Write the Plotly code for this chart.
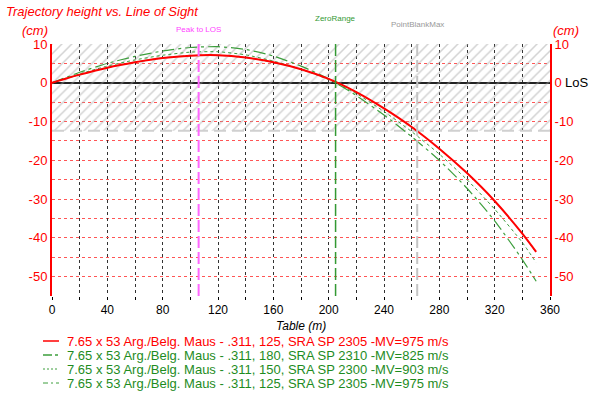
import plotly.graph_objects as go

# ---------------- data ----------------
RANGE_M = [0, 20, 40, 60, 80, 100, 120, 140, 160, 180, 200, 220, 240, 260, 280, 300, 320, 340, 350]

H_125_975_RED = [0, 2.1, 3.9, 5.3, 6.4, 7.0, 7.1, 6.5, 5.3, 3.5, 1.0, -2.4, -6.6, -11.4, -17.0, -23.3, -30.5, -38.9, -43.6]
H_180_825 = [0, 2.7, 5.0, 6.8, 8.2, 9.1, 9.3, 8.6, 6.9, 4.3, 1.0, -3.3, -8.3, -13.9, -20.0, -27.2, -35.6, -45.6, -51.2]
H_150_903 = [0, 2.3, 4.3, 5.9, 7.1, 7.9, 8.0, 7.2, 5.6, 3.5, 0.8, -2.8, -7.4, -12.6, -18.4, -25.0, -32.6, -41.2, -46.4]
H_125_975_GREEN = [0, 2.1, 3.9, 5.3, 6.4, 7.0, 7.1, 6.5, 5.3, 3.5, 1.0, -2.4, -6.6, -11.4, -17.0, -23.3, -30.5, -38.9, -43.8]

SERIES_NAMES = [
    "7.65 x 53 Arg./Belg. Maus - .311, 125, SRA SP 2305 -MV=975 m/s",
    "7.65 x 53 Arg./Belg. Maus - .311, 180, SRA SP 2310 -MV=825 m/s",
    "7.65 x 53 Arg./Belg. Maus - .311, 150, SRA SP 2300 -MV=903 m/s",
    "7.65 x 53 Arg./Belg. Maus - .311, 125, SRA SP 2305 -MV=975 m/s",
]

PEAK_TO_LOS_M = 106
ZERO_RANGE_M = 205
POINT_BLANK_MAX_M = 264
HATCH_LOW_CM = -12.4
HATCH_HIGH_CM = 10

X_TICKS = [0, 40, 80, 120, 160, 200, 240, 280, 320, 360]
X_TICK_TEXT = ["0", "40", "80", "120", "160", "200", "240", "280", "320", "360"]
Y_TICKS = [10, 0, -10, -20, -30, -40, -50]
Y_TICK_TEXT = ["10", "0", "-10", "-20", "-30", "-40", "-50"]

# ---------------- styles ----------------
FONT = "Liberation Sans, Arial, sans-serif"
RED = "#ff0000"
GREEN_LINE = "#3c9e3c"
GREEN_TEXT = "#1e8c1e"
W, H = 600, 395
ML, MR, MT, MB = 52, 50, 44, 99
PW = W - ML - MR
PH = H - MT - MB


def px_to_paper(px, py):
    return (px - ML) / PW, (H - MB - py) / PH


fig = go.Figure()

# hatched point-blank zone
fig.add_trace(go.Scatter(
    x=[0, 360, 360, 0, 0], y=[HATCH_LOW_CM, HATCH_LOW_CM, HATCH_HIGH_CM, HATCH_HIGH_CM, HATCH_LOW_CM],
    fill="toself", fillcolor="rgba(0,0,0,0)", mode="lines", line=dict(width=0),
    fillpattern=dict(shape="/", fgcolor="#a6a6a6", bgcolor="rgba(0,0,0,0)", size=7, solidity=0.22),
    hoverinfo="skip", showlegend=False))
# lower edge of zone
fig.add_trace(go.Scatter(
    x=[0, 360], y=[HATCH_LOW_CM, HATCH_LOW_CM], mode="lines",
    line=dict(color="#d0d0d0", width=2, dash="12px,6px"), hoverinfo="skip", showlegend=False))

styles = [
    dict(color=GREEN_LINE, width=1, dash="dashdot"),
    dict(color=GREEN_LINE, width=1, dash="dot"),
    dict(color=GREEN_LINE, width=1.2, dash="12px,4px,3px,4px"),
    dict(color=RED, width=2, dash="solid"),
]
series = [H_125_975_GREEN, H_150_903, H_180_825, H_125_975_RED]
names = [SERIES_NAMES[3], SERIES_NAMES[2], SERIES_NAMES[1], SERIES_NAMES[0]]
for ys, st, nm in zip(series, styles, names):
    fig.add_trace(go.Scatter(x=RANGE_M, y=ys, mode="lines", line=dict(shape="spline", smoothing=0.6, **st),
                             name=nm, showlegend=False))

# dummy trace to anchor right axis
fig.add_trace(go.Scatter(x=[None], y=[None], yaxis="y2", showlegend=False, hoverinfo="skip"))

# vertical markers
fig.add_shape(type="line", x0=PEAK_TO_LOS_M, x1=PEAK_TO_LOS_M, y0=0, y1=1, xref="x", yref="paper",
              line=dict(color="#ff66ff", width=2, dash="12px,4px"))
fig.add_shape(type="line", x0=ZERO_RANGE_M, x1=ZERO_RANGE_M, y0=0, y1=1, xref="x", yref="paper",
              line=dict(color="#339933", width=1.5, dash="12px,4px"))
fig.add_shape(type="line", x0=POINT_BLANK_MAX_M, x1=POINT_BLANK_MAX_M, y0=0, y1=1, xref="x", yref="paper",
              line=dict(color="#c4c4c4", width=2, dash="12px,4px"))

ann = []
ann.append(dict(x=PEAK_TO_LOS_M, y=px_to_paper(0, 30)[1], xref="x", yref="paper", text="Peak to LOS",
                showarrow=False, font=dict(family=FONT, size=8, color="#ff44ff"), xanchor="center", yanchor="middle"))
ann.append(dict(x=ZERO_RANGE_M, y=px_to_paper(0, 19)[1], xref="x", yref="paper", text="ZeroRange",
                showarrow=False, font=dict(family=FONT, size=8, color="#339933"), xanchor="center", yanchor="middle"))
ann.append(dict(x=POINT_BLANK_MAX_M, y=px_to_paper(0, 24)[1], xref="x", yref="paper", text="PointBlankMax",
                showarrow=False, font=dict(family=FONT, size=8, color="#999999"), xanchor="center", yanchor="middle"))
# (cm) labels
ann.append(dict(x=px_to_paper(35, 0)[0], y=px_to_paper(0, 31)[1], xref="paper", yref="paper", text="<i>(cm)</i>",
                showarrow=False, font=dict(family=FONT, size=13, color=RED), xanchor="center", yanchor="middle"))
ann.append(dict(x=px_to_paper(566, 0)[0], y=px_to_paper(0, 31)[1], xref="paper", yref="paper", text="<i>(cm)</i>",
                showarrow=False, font=dict(family=FONT, size=13, color=RED), xanchor="center", yanchor="middle"))
# LoS
ann.append(dict(x=px_to_paper(563, 0)[0], y=0, xref="paper", yref="y", text="LoS",
                showarrow=False, font=dict(family=FONT, size=13, color="black"), xanchor="left", yanchor="middle"))
# x title
ann.append(dict(x=0.5, y=px_to_paper(0, 326)[1], xref="paper", yref="paper", text="<i>Table (m)</i>",
                showarrow=False, font=dict(family=FONT, size=12, color="black"), xanchor="center", yanchor="middle"))

# manual legend
leg_rows = [341, 355, 369, 383]
leg_colors = [RED, GREEN_TEXT, GREEN_TEXT, GREEN_TEXT]
leg_line_styles = [
    dict(color=RED, width=1.5, dash="solid"),
    dict(color=GREEN_LINE, width=1.5, dash="9px,3px,3px,3px"),
    dict(color=GREEN_LINE, width=1, dash="2px,2px"),
    dict(color=GREEN_LINE, width=1, dash="5px,3px,2px,3px"),
]
for py, nm, col, ls in zip(leg_rows, SERIES_NAMES, leg_colors, leg_line_styles):
    x0, yy = px_to_paper(43, py)
    x1, _ = px_to_paper(59, py)
    fig.add_shape(type="line", x0=x0, x1=x1, y0=yy, y1=yy, xref="paper", yref="paper", line=ls)
    ann.append(dict(x=px_to_paper(65, 0)[0], y=yy, xref="paper", yref="paper", text=nm, showarrow=False,
                    font=dict(family=FONT, size=13, color=col), xanchor="left", yanchor="middle"))

fig.update_layout(
    width=W, height=H,
    margin=dict(l=ML, r=MR, t=MT, b=MB, pad=0),
    paper_bgcolor="white", plot_bgcolor="white",
    showlegend=False,
    title=dict(text="<i>Trajectory height vs. Line of Sight</i>", x=6 / W, xanchor="left",
               y=1 - 11 / H, yanchor="middle", xref="container", yref="container",
               font=dict(family=FONT, size=13, color=RED)),
    annotations=ann,
    xaxis=dict(range=[0, 360], tickmode="array", tickvals=X_TICKS, ticktext=X_TICK_TEXT,
               showgrid=True, gridcolor="#333333", griddash="dot", gridwidth=1,
               minor=dict(dtick=20, tick0=0, showgrid=True, gridcolor="#333333", griddash="dot", gridwidth=1,
                          ticks="outside", ticklen=3, tickcolor="black"),
               ticks="outside", ticklen=3, tickcolor="black",
               zeroline=False, showline=False,
               tickfont=dict(family=FONT, size=12, color="black")),
    yaxis=dict(range=[-55, 10], tickmode="array", tickvals=Y_TICKS, ticktext=Y_TICK_TEXT,
               showgrid=True, gridcolor="#ff5555", griddash="dot", gridwidth=1,
               minor=dict(dtick=5, tick0=0, showgrid=True, gridcolor="#ff5555", griddash="dot", gridwidth=1),
               zeroline=True, zerolinecolor="#222222", zerolinewidth=2,
               showline=True, linecolor=RED, linewidth=2, ticks="",
               tickfont=dict(family=FONT, size=13, color=RED)),
    yaxis2=dict(range=[-55, 10], overlaying="y", side="right", tickmode="array", tickvals=Y_TICKS,
                ticktext=Y_TICK_TEXT, showgrid=False, zeroline=False,
                showline=True, linecolor=RED, linewidth=2, ticks="",
                tickfont=dict(family=FONT, size=13, color=RED)),
)

fig.write_html("out.html", config={"displayModeBar": False},
               post_script="document.body.style.margin='0';document.body.style.overflow='hidden';")
